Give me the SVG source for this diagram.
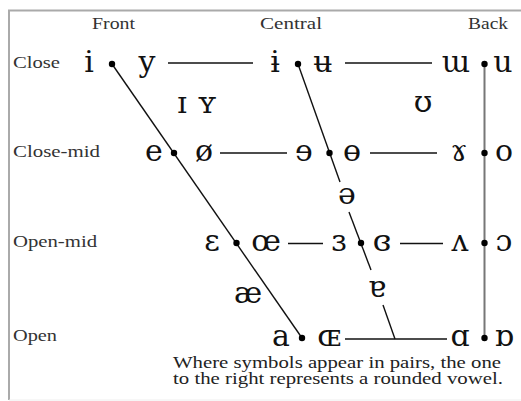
<svg xmlns="http://www.w3.org/2000/svg" width="521" height="401" viewBox="0 0 521 401">
<style>
.lbl{font-family:"Liberation Serif","DejaVu Serif",serif;font-size:16px;fill:#333}
.v{font-family:"DejaVu Serif",serif;font-size:30px;fill:#111;text-anchor:middle}
.note{font-family:"Liberation Serif","DejaVu Serif",serif;font-size:16px;fill:#222}
.ln{stroke:#111;stroke-width:1.4;fill:none}
.bk{stroke:#777;stroke-width:2;fill:none}
.dot{fill:#000}
.frame{stroke:#aaa;stroke-width:2;fill:none}
</style>
<rect width="521" height="401" fill="#fff"/>
<path class="frame" d="M521 10.5H9V400"/>
<line x1="9" y1="400" x2="521" y2="400" stroke="#eee" stroke-width="1"/>
<g id="headers">
<text class="lbl" x="92" y="29" textLength="43" lengthAdjust="spacingAndGlyphs">Front</text>
<text class="lbl" x="260" y="29" textLength="62" lengthAdjust="spacingAndGlyphs">Central</text>
<text class="lbl" x="468" y="29" textLength="40" lengthAdjust="spacingAndGlyphs">Back</text>
<text class="lbl" x="13" y="68" textLength="47" lengthAdjust="spacingAndGlyphs">Close</text>
<text class="lbl" x="13" y="157" textLength="87" lengthAdjust="spacingAndGlyphs">Close-mid</text>
<text class="lbl" x="13" y="247" textLength="84" lengthAdjust="spacingAndGlyphs">Open-mid</text>
<text class="lbl" x="13" y="341" textLength="44" lengthAdjust="spacingAndGlyphs">Open</text>
</g>
<g id="connectors">
<line class="ln" x1="112" y1="64" x2="302" y2="338"/>
<line class="ln" x1="298" y1="64" x2="340" y2="182"/>
<line class="ln" x1="349" y1="212" x2="371" y2="270"/>
<line class="ln" x1="383" y1="305" x2="395" y2="339"/>
<line class="bk" x1="484.5" y1="64" x2="484.5" y2="338"/>
<line class="ln" x1="168" y1="63" x2="253" y2="63"/>
<line class="ln" x1="345" y1="63" x2="432" y2="63"/>
<line class="ln" x1="220" y1="153" x2="287" y2="153"/>
<line class="ln" x1="370" y1="153" x2="437" y2="153"/>
<line class="ln" x1="288" y1="243.5" x2="323" y2="243.5"/>
<line class="ln" x1="400" y1="243.5" x2="443" y2="243.5"/>
<line class="ln" x1="345" y1="339" x2="447" y2="339"/>
</g>
<g id="close-front"><text class="v" x="89" y="72">i</text><circle class="dot" cx="112" cy="64" r="3.2"/><text class="v" x="147" y="72">y</text></g>
<g id="close-central"><text class="v" x="275" y="72">ɨ</text><circle class="dot" cx="298" cy="64" r="3.2"/><text class="v" x="323" y="72">ʉ</text></g>
<g id="close-back"><text class="v" x="456" y="72">ɯ</text><circle class="dot" cx="484.5" cy="64" r="3.2"/><text class="v" x="503" y="72">u</text></g>
<g id="near-close-front"><text class="v" x="182" y="113">ɪ</text><text class="v" x="207" y="113">ʏ</text></g>
<g id="near-close-back"><text class="v" x="423" y="112">ʊ</text></g>
<g id="closemid-front"><text class="v" x="154" y="161">e</text><circle class="dot" cx="174" cy="153" r="3.2"/><text class="v" x="204" y="161">ø</text></g>
<g id="closemid-central"><text class="v" x="304" y="161">ɘ</text><circle class="dot" cx="329.5" cy="153" r="3.2"/><text class="v" x="352" y="161">ɵ</text></g>
<g id="closemid-back"><text class="v" x="459" y="161">ɤ</text><circle class="dot" cx="484.5" cy="153" r="3.2"/><text class="v" x="504" y="161">o</text></g>
<g id="mid-central"><text class="v" x="347" y="204">ə</text></g>
<g id="openmid-front"><text class="v" x="212" y="251">ɛ</text><circle class="dot" cx="236.5" cy="243" r="3.2"/><text class="v" x="266" y="251">œ</text></g>
<g id="openmid-central"><text class="v" x="339" y="251">ɜ</text><circle class="dot" cx="361" cy="243" r="3.2"/><text class="v" x="382" y="251">ɞ</text></g>
<g id="openmid-back"><text class="v" x="460" y="251">ʌ</text><circle class="dot" cx="484.5" cy="243" r="3.2"/><text class="v" x="504" y="251">ɔ</text></g>
<g id="near-open-front"><text class="v" x="248" y="303">æ</text></g>
<g id="near-open-central"><text class="v" x="377" y="297">ɐ</text></g>
<g id="open-front"><text class="v" x="281" y="346">a</text><circle class="dot" cx="302" cy="338" r="3.2"/><text class="v" x="329" y="346">ɶ</text></g>
<g id="open-back"><text class="v" x="460" y="346">ɑ</text><circle class="dot" cx="484.5" cy="338" r="3.2"/><text class="v" x="504" y="346">ɒ</text></g>
<g id="note">
<text class="note" x="173" y="368" textLength="328" lengthAdjust="spacingAndGlyphs">Where symbols appear in pairs, the one</text>
<text class="note" x="173" y="384" textLength="330" lengthAdjust="spacingAndGlyphs">to the right represents a rounded vowel.</text>
</g>
</svg>
